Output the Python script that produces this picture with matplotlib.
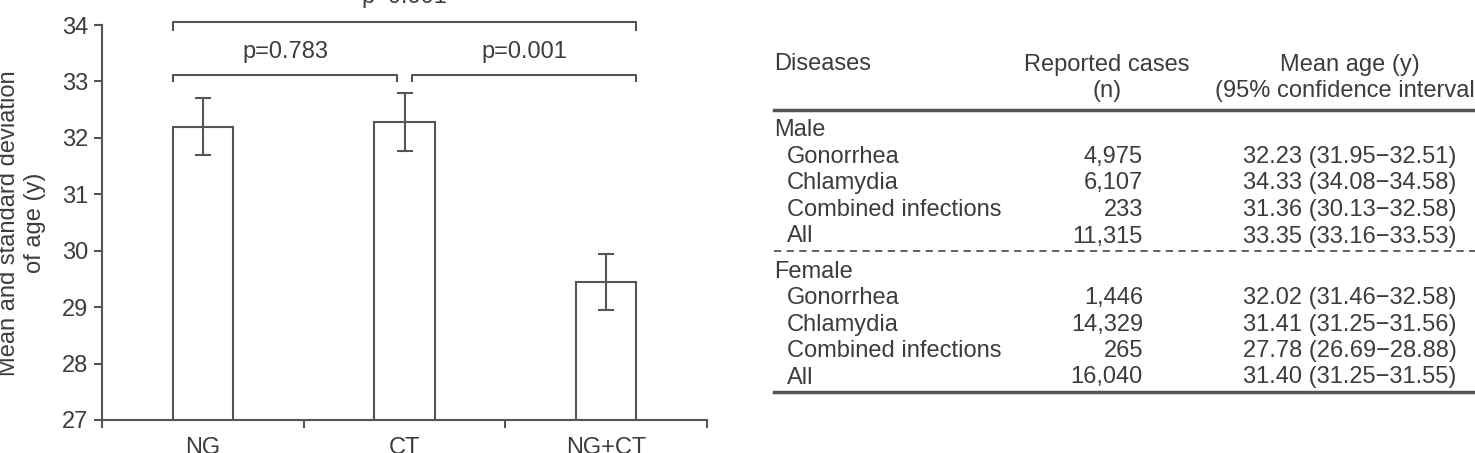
import matplotlib
matplotlib.use('Agg')
import matplotlib.pyplot as plt

plt.rcParams['font.family'] = ['Liberation Sans', 'DejaVu Sans']

# left panel: mean age and SD by infection group
groups = ["NG", "CT", "NG+CT"]
mean_age = [32.2, 32.28, 29.45]
sd_age = [0.5, 0.51, 0.5]

# pairwise comparisons (group i, group j, label)
comparisons = [(0, 1, "p=0.783"), (1, 2, "p=0.001"), (0, 2, "p=0.001")]

# right panel: table
header_1 = ["Diseases", "Reported cases", "Mean age (y)"]
header_2 = ["", "(n)", "(95% confidence interval)"]
sections = ["Male", "Female"]
diseases = ["Gonorrhea", "Chlamydia", "Combined infections", "All"]
cases_male = ["4,975", "6,107", "233", "11,315"]
cases_female = ["1,446", "14,329", "265", "16,040"]
ci_male = ["32.23 (31.95\u221232.51)", "34.33 (34.08\u221234.58)",
           "31.36 (30.13\u221232.58)", "33.35 (33.16\u221233.53)"]
ci_female = ["32.02 (31.46\u221232.58)", "31.41 (31.25\u221231.56)",
             "27.78 (26.69\u221228.88)", "31.40 (31.25\u221231.55)"]

W, H = 1475, 453
txt = '#3c3c3c'
ln = '#555555'
fs = 17

fig = plt.figure(figsize=(W/100, H/100), dpi=100)

ax = fig.add_axes([102/W, 33/H, 605/W, 395/H])
x = range(len(groups))
ax.bar(x, mean_age, width=0.30, bottom=0, color='white', edgecolor=ln, linewidth=1.5, zorder=2)
ax.errorbar(x, mean_age, yerr=sd_age, fmt='none', ecolor=ln, elinewidth=1.5,
            capsize=6, capthick=1.5, zorder=3)
ax.set_xlim(-0.5, 2.5)
ax.set_ylim(27, 34)
ax.spines['top'].set_visible(False)
ax.spines['right'].set_visible(False)
for s in ['left', 'bottom']:
    ax.spines[s].set_color(ln)
    ax.spines[s].set_linewidth(1.5)
ax.set_yticks(range(27, 35))
ax.tick_params(axis='y', length=6, width=1.5, color=ln, pad=4, labelsize=fs, labelcolor=txt)
ax.set_xticks(list(x))
ax.set_xticklabels(groups)
ax.set_xticks([-0.5, 0.5, 1.5, 2.5], minor=True)
ax.tick_params(axis='x', which='major', length=0, pad=12, labelsize=fs, labelcolor=txt)
ax.tick_params(axis='x', which='minor', length=6, width=1.5, color=ln)

# significance brackets
half = 0.15
for i, j, lab in comparisons:
    if j - i == 2:
        x0, x1, yl, yt, ytxt = i - half, j + half, 34.06, 33.92, 34.30
    elif i == 0:
        x0, x1, yl, yt, ytxt = i - half, j - 0.035, 33.11, 33.0, 33.33
    else:
        x0, x1, yl, yt, ytxt = i + 0.035, j + half, 33.11, 33.0, 33.33
    ax.plot([x0, x0, x1, x1], [yt, yl, yl, yt], color=ln, lw=1.5, clip_on=False)
    ax.text((x0 + x1) / 2, ytxt, lab, ha='center', va='bottom', fontsize=fs, color=txt, clip_on=False)

fig.text(9/W, 1 - 223/H, "Mean and standard deviation", rotation=90, ha='center', va='center',
         fontsize=fs, color=txt)
fig.text(35/W, 1 - 223/H, "of age (y)", rotation=90, ha='center', va='center',
         fontsize=fs, color=txt)

# table drawn in pixel coordinates
tb = fig.add_axes([0, 0, 1, 1], facecolor='none')
tb.set_xlim(0, W)
tb.set_ylim(H, 0)
tb.axis('off')

x_name, x_ind, x_num, x_ci = 774, 787, 1143, 1350
x_n_hdr = 1107
tb.text(x_name, 70.5, header_1[0], ha='left', va='baseline', fontsize=fs, color=txt)
tb.text(x_n_hdr, 70.5, header_1[1], ha='center', va='baseline', fontsize=fs, color=txt)
tb.text(x_ci, 70.5, header_1[2], ha='center', va='baseline', fontsize=fs, color=txt)
tb.text(x_n_hdr, 96.5, header_2[1], ha='center', va='baseline', fontsize=fs, color=txt)
tb.text(1215, 96.5, header_2[2], ha='left', va='baseline', fontsize=fs, color=txt)

tb.plot([774, W], [110, 110], color=ln, lw=2.5)
tb.plot([774, W], [251, 251], color=ln, lw=1.3, dashes=(4, 3))
tb.plot([774, W], [391.5, 391.5], color=ln, lw=2.5)

row_h = 26.5
for k, (sec, cases, ci) in enumerate(zip(sections, [cases_male, cases_female], [ci_male, ci_female])):
    y0 = 136.5 + k * 141
    tb.text(x_name, y0, sec, ha='left', va='baseline', fontsize=fs, color=txt)
    for r in range(len(diseases)):
        yy = y0 + (r + 1) * row_h
        tb.text(x_ind, yy, diseases[r], ha='left', va='baseline', fontsize=fs, color=txt)
        tb.text(x_num, yy, cases[r], ha='right', va='baseline', fontsize=fs, color=txt)
        tb.text(x_ci, yy, ci[r], ha='center', va='baseline', fontsize=fs, color=txt)

plt.savefig("out.png", dpi=100)
plt.close()
